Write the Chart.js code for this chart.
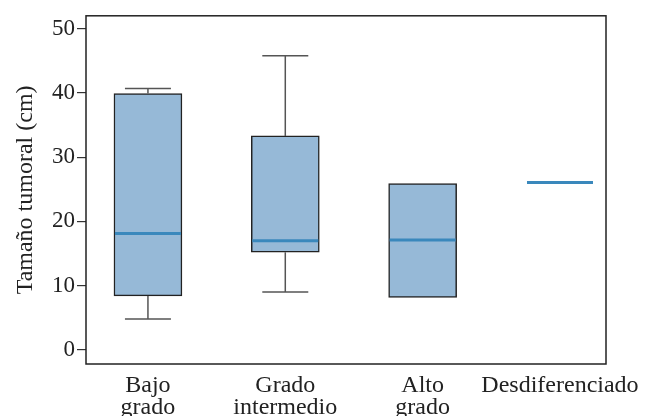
<!DOCTYPE html>
<html>
<head>
<meta charset="utf-8">
<script src="https://cdn.jsdelivr.net/npm/chart.js@4/dist/chart.umd.min.js"></script>
<style>
  html, body { margin: 0; padding: 0; background: #fff; }
  #wrap { width: 650px; height: 416px; }
</style>
</head>
<body>
<div id="wrap"><canvas id="boxChart"></canvas></div>
<script>
// datos
var categorias = [['Bajo', 'grado'], ['Grado', 'intermedio'], ['Alto', 'grado'], 'Desdiferenciado'];
var minimos = [4.8, 9.0, null, null];
var q1 = [8.4, 15.2, 8.15, null];
var medianas = [18.1, 17.0, 17.1, 26.05];
var q3 = [39.9, 33.3, 25.9, null];
var maximos = [40.7, 45.8, null, null];
var yTicks = [0, 10, 20, 30, 40, 50];

var posiciones = categorias.map(function(c, i) { return i + 1; });

var cajas = posiciones.map(function(p, i) {
    return { x: p, y: (q1[i] == null ? null : [q1[i], q3[i]]) };
});

var fuente = 'Liberation Serif, Times New Roman, serif';

// bigotes, medianas y marco
var bigotesPlugin = {
    id: 'bigotes',
    afterDatasetsDraw: function(chart) {
        var ctx = chart.ctx;
        var xs = chart.scales.x, ys = chart.scales.y;
        var media = 34, cap = 23;
        ctx.save();
        posiciones.forEach(function(p, i) {
            var cx = xs.getPixelForValue(p);
            ctx.strokeStyle = '#555';
            ctx.lineWidth = 1.5;
            if (maximos[i] != null) {
                ctx.beginPath();
                ctx.moveTo(cx, ys.getPixelForValue(q3[i]));
                ctx.lineTo(cx, ys.getPixelForValue(maximos[i]));
                ctx.moveTo(cx - cap, ys.getPixelForValue(maximos[i]));
                ctx.lineTo(cx + cap, ys.getPixelForValue(maximos[i]));
                ctx.stroke();
            }
            if (minimos[i] != null) {
                ctx.beginPath();
                ctx.moveTo(cx, ys.getPixelForValue(q1[i]));
                ctx.lineTo(cx, ys.getPixelForValue(minimos[i]));
                ctx.moveTo(cx - cap, ys.getPixelForValue(minimos[i]));
                ctx.lineTo(cx + cap, ys.getPixelForValue(minimos[i]));
                ctx.stroke();
            }
            ctx.strokeStyle = '#3a88bc';
            ctx.lineWidth = 3;
            ctx.beginPath();
            var my = ys.getPixelForValue(medianas[i]);
            ctx.moveTo(cx - media + 1, my);
            ctx.lineTo(cx + media - 1, my);
            ctx.stroke();
        });
        var a = chart.chartArea;
        ctx.strokeStyle = '#222';
        ctx.lineWidth = 1.5;
        ctx.strokeRect(a.left, a.top, a.right - a.left, a.bottom - a.top);
        ctx.restore();
    }
};

new Chart(document.getElementById('boxChart').getContext('2d'), {
    type: 'bar',
    data: {
        datasets: [{
            data: cajas,
            backgroundColor: '#96b9d7',
            borderColor: '#222',
            borderWidth: 1.5,
            borderSkipped: false,
            barThickness: 68
        }]
    },
    options: {
        responsive: true,
        maintainAspectRatio: false,
        animation: false,
        layout: { padding: { top: 14, right: 44, left: 0, bottom: 0 } },
        plugins: {
            legend: { display: false },
            tooltip: { enabled: false }
        },
        scales: {
            x: {
                type: 'linear',
                offset: false,
                min: 0.549,
                max: 4.335,
                afterBuildTicks: function(scale) {
                    scale.ticks = posiciones.map(function(v) { return { value: v }; });
                },
                afterFit: function(scale) { scale.height = 52; },
                grid: { display: false },
                border: { display: false },
                ticks: {
                    padding: 3,
                    maxRotation: 0,
                    autoSkip: false,
                    color: '#222',
                    font: { family: fuente, size: 24, lineHeight: 0.9 },
                    callback: function(v) { return categorias[Math.round(v) - 1]; }
                }
            },
            y: {
                min: -2.2,
                max: 52.0,
                afterBuildTicks: function(scale) {
                    scale.ticks = yTicks.map(function(v) { return { value: v }; });
                },
                afterFit: function(scale) { scale.width = 86; },
                grid: { drawOnChartArea: false, drawTicks: true, tickLength: 9, color: '#333', lineWidth: 1.2 },
                border: { display: false },
                ticks: {
                    padding: 2,
                    color: '#222',
                    font: { family: fuente, size: 23 }
                },
                title: {
                    display: true,
                    text: 'Tamaño tumoral (cm)',
                    color: '#222',
                    padding: { top: 11, bottom: 0 },
                    font: { family: fuente, size: 24 }
                }
            }
        }
    },
    plugins: [bigotesPlugin]
});
</script>
</body>
</html>
